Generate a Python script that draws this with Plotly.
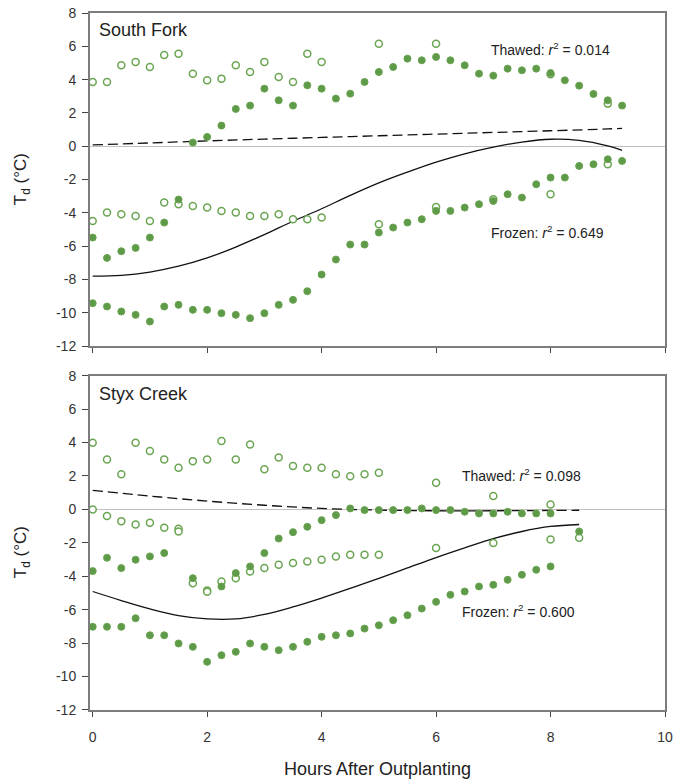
import plotly.graph_objects as go

# ---------------- South Fork (top panel) ----------------
sf_open_a_t = [0, 0.25, 0.5, 0.75, 1.0, 1.25, 1.5, 1.75, 2.0, 2.25, 2.5, 2.75, 3.0, 3.25, 3.5, 3.75, 4.0, 5, 6, 8, 9]
sf_open_a = [3.86, 3.86, 4.86, 5.06, 4.76, 5.48, 5.56, 4.36, 3.96, 4.06, 4.86, 4.46, 5.06, 4.16, 3.86, 5.56, 5.06, 6.16, 6.16, 4.32, 2.56]

sf_open_b_t = [0, 0.25, 0.5, 0.75, 1.0, 1.25, 1.5, 1.75, 2.0, 2.25, 2.5, 2.75, 3.0, 3.25, 3.5, 3.75, 4.0, 5, 6, 7, 8, 9]
sf_open_b = [-4.48, -3.98, -4.08, -4.18, -4.48, -3.38, -3.48, -3.58, -3.68, -3.88, -3.98, -4.18, -4.18, -4.08, -4.38, -4.38, -4.28, -4.68, -3.64, -3.18, -2.88, -1.08]

sf_filled_a_t = [1.75, 2.0, 2.25, 2.5, 2.75, 3.0, 3.25, 3.5, 3.75, 4.0, 4.25, 4.5, 4.75, 5.0, 5.25, 5.5, 5.75, 6.0, 6.25, 6.5, 6.75, 7.0, 7.25, 7.5, 7.75, 8.0, 8.25, 8.5, 8.75, 9.0, 9.25]
sf_filled_a = [0.22, 0.56, 1.24, 2.24, 2.44, 3.46, 2.76, 2.44, 3.66, 3.46, 2.86, 3.16, 3.86, 4.46, 4.76, 5.26, 5.16, 5.36, 5.16, 4.86, 4.36, 4.24, 4.66, 4.56, 4.66, 4.40, 3.96, 3.64, 3.14, 2.76, 2.44]

sf_filled_b_t = [0, 0.25, 0.5, 0.75, 1.0, 1.25, 1.5]
sf_filled_b = [-5.48, -6.70, -6.30, -6.10, -5.48, -4.58, -3.20]

sf_filled_c_t = [0, 0.25, 0.5, 0.75, 1.0, 1.25, 1.5, 1.75, 2.0, 2.25, 2.5, 2.75, 3.0, 3.25, 3.5, 3.75, 4.0, 4.25, 4.5, 4.75,
                 5.0, 5.25, 5.5, 5.75, 6.0, 6.25, 6.5, 6.75, 7.0, 7.25, 7.5, 7.75, 8.0, 8.25, 8.5, 8.75, 9.0, 9.25]
sf_filled_c = [-9.42, -9.62, -9.92, -10.12, -10.52, -9.62, -9.52, -9.82, -9.82, -10.02, -10.12, -10.32, -10.02, -9.52, -9.22, -8.70, -7.70, -6.80, -5.90, -5.90,
               -5.18, -4.88, -4.58, -4.38, -3.88, -3.88, -3.68, -3.48, -3.28, -2.88, -3.08, -2.28, -1.88, -1.88, -1.18, -1.08, -0.78, -0.88]

sf_thawed_fit_t = [0, 1, 2, 3, 4, 5, 6, 7, 8, 9, 9.25]
sf_thawed_fit = [0.08, 0.20, 0.32, 0.43, 0.53, 0.63, 0.73, 0.83, 0.93, 1.04, 1.08]

sf_frozen_fit_t = [0, 0.5, 1, 1.5, 2, 2.5, 3, 3.5, 4, 4.5, 5, 5.5, 6, 6.5, 7, 7.5, 8, 8.5, 9, 9.25]
sf_frozen_fit = [-7.80, -7.75, -7.55, -7.20, -6.70, -6.05, -5.30, -4.50, -3.75, -2.95, -2.20, -1.55, -0.95, -0.45, -0.05, 0.25, 0.42, 0.35, 0.02, -0.25]

# ---------------- Styx Creek (bottom panel) ----------------
sc_open_a_t = [0, 0.25, 0.5, 0.75, 1.0, 1.25, 1.5, 1.75, 2.0, 2.25, 2.5, 2.75, 3.0, 3.25, 3.5, 3.75, 4.0, 4.25, 4.5, 4.75, 5.0, 6, 7, 8]
sc_open_a = [3.99, 2.99, 2.11, 3.99, 3.49, 2.99, 2.50, 2.89, 2.99, 4.09, 2.99, 3.89, 2.40, 3.10, 2.60, 2.50, 2.50, 2.10, 1.99, 2.10, 2.20, 1.60, 0.80, 0.30]

sc_open_b_t = [0, 0.25, 0.5, 0.75, 1.0, 1.25, 1.5, 1.5, 1.75, 2.0, 2.0, 2.25, 2.5, 2.75, 3.0, 3.25, 3.5, 3.75, 4.0, 4.25, 4.5, 4.75, 5.0, 6, 7, 8, 8.5]
sc_open_b = [0.00, -0.40, -0.70, -0.90, -0.80, -1.10, -1.15, -1.32, -4.41, -4.85, -4.93, -4.31, -4.11, -3.71, -3.51, -3.31, -3.21, -3.11, -3.01, -2.81, -2.71, -2.71, -2.71, -2.31, -2.01, -1.80, -1.70]

sc_filled_a_t = [0, 0.25, 0.5, 0.75, 1.0, 1.25, 1.75, 2.25, 2.5, 2.75, 3.0, 3.25, 3.5, 3.75, 4.0, 4.25, 4.5, 4.75, 5.0, 5.25, 5.5, 5.75,
                 6.0, 6.25, 6.5, 6.75, 7.0, 7.25, 7.5, 7.75, 8.0, 8.5]
sc_filled_a = [-3.69, -2.89, -3.51, -3.01, -2.81, -2.61, -4.11, -4.61, -3.81, -3.41, -2.61, -1.74, -1.36, -1.04, -0.64, -0.34, 0.06, -0.04, -0.04, -0.04, -0.04, 0.06,
               -0.04, -0.04, -0.14, -0.24, -0.24, -0.14, -0.24, -0.24, -0.24, -1.32]

sc_filled_b_t = [0, 0.25, 0.5, 0.75, 1.0, 1.25, 1.5, 1.75, 2.0, 2.25, 2.5, 2.75, 3.0, 3.25, 3.5, 3.75, 4.0, 4.25, 4.5, 4.75, 5.0,
                 5.25, 5.5, 5.75, 6.0, 6.25, 6.5, 6.75, 7.0, 7.25, 7.5, 7.75, 8.0]
sc_filled_b = [-7.02, -7.02, -7.02, -6.51, -7.53, -7.53, -8.02, -8.22, -9.12, -8.72, -8.52, -8.02, -8.22, -8.42, -8.22, -7.92, -7.62, -7.53, -7.42, -7.13, -6.93,
               -6.63, -6.33, -5.93, -5.53, -5.11, -4.91, -4.61, -4.51, -4.21, -3.91, -3.61, -3.41]

sc_thawed_fit_t = [0, 1, 2, 3, 4, 5, 6, 7, 8, 8.5]
sc_thawed_fit = [1.14, 0.80, 0.50, 0.25, 0.06, -0.04, -0.08, -0.08, -0.06, -0.05]

sc_frozen_fit_t = [0, 0.5, 1, 1.5, 2, 2.5, 3, 3.5, 4, 4.5, 5, 5.5, 6, 6.5, 7, 7.5, 8, 8.5]
sc_frozen_fit = [-4.91, -5.45, -5.95, -6.35, -6.55, -6.55, -6.28, -5.83, -5.30, -4.72, -4.12, -3.50, -2.88, -2.30, -1.75, -1.32, -1.02, -0.90]

x_ticks = [0, 2, 4, 6, 8, 10]
y_ticks = [8, 6, 4, 2, 0, -2, -4, -6, -8, -10, -12]
y_ticktext = ["8", "6", "4", "2", "0", "-2", "-4", "-6", "-8", "-10", "-12"]

panel_titles = ["South Fork", "Styx Creek"]
thawed_labels = ["Thawed: <i>r</i><sup>2</sup> = 0.014", "Thawed: <i>r</i><sup>2</sup> = 0.098"]
frozen_labels = ["Frozen: <i>r</i><sup>2</sup> = 0.649", "Frozen: <i>r</i><sup>2</sup> = 0.600"]

GREEN = "#5f9a48"
GREEN_EDGE = "#6aa552"
FONT = "Liberation Sans, Arial, sans-serif"

fig = go.Figure()


def add_line(t, v, xa, ya, dash):
    fig.add_trace(go.Scatter(x=t, y=v, mode="lines", xaxis=xa, yaxis=ya,
                             line=dict(color="#111111", width=1.3, dash=dash, shape="spline", smoothing=1.0),
                             showlegend=False, hoverinfo="skip"))


def add_filled(t, v, xa, ya):
    fig.add_trace(go.Scatter(x=t, y=v, mode="markers", xaxis=xa, yaxis=ya,
                             marker=dict(size=7, color=GREEN, line=dict(color=GREEN_EDGE, width=1)),
                             showlegend=False))


def add_open(t, v, xa, ya):
    fig.add_trace(go.Scatter(x=t, y=v, mode="markers", xaxis=xa, yaxis=ya,
                             marker=dict(size=7, color="white", line=dict(color=GREEN_EDGE, width=1.5)),
                             showlegend=False))


# top panel
add_line(sf_thawed_fit_t, sf_thawed_fit, "x", "y", "10px,5px")
add_line(sf_frozen_fit_t, sf_frozen_fit, "x", "y", "solid")
add_open(sf_open_a_t, sf_open_a, "x", "y")
add_open(sf_open_b_t, sf_open_b, "x", "y")
add_filled(sf_filled_a_t, sf_filled_a, "x", "y")
add_filled(sf_filled_b_t, sf_filled_b, "x", "y")
add_filled(sf_filled_c_t, sf_filled_c, "x", "y")

# bottom panel
add_line(sc_thawed_fit_t, sc_thawed_fit, "x2", "y2", "10px,5px")
add_line(sc_frozen_fit_t, sc_frozen_fit, "x2", "y2", "solid")
add_open(sc_open_a_t, sc_open_a, "x2", "y2")
add_open(sc_open_b_t, sc_open_b, "x2", "y2")
add_filled(sc_filled_a_t, sc_filled_a, "x2", "y2")
add_filled(sc_filled_b_t, sc_filled_b, "x2", "y2")

xcommon = dict(range=[-0.047, 10.0], tickvals=x_ticks, ticks="outside", ticklen=5, tickwidth=1,
               tickcolor="#444", showline=True, linecolor="#7d7d7d", linewidth=2, mirror=True,
               showgrid=False, zeroline=False, ticklabelstandoff=8, automargin=False,
               tickfont=dict(family=FONT, size=14, color="#333"))
ycommon = dict(range=[-12, 8], tickvals=y_ticks, ticktext=y_ticktext, ticks="outside", ticklen=6, tickwidth=1,
               tickcolor="#444", showline=True, linecolor="#7d7d7d", linewidth=2, mirror=True,
               showgrid=False, zeroline=True, zerolinecolor="#c4c0bc", zerolinewidth=1, ticklabelstandoff=3,
               automargin=False,
               tickfont=dict(family=FONT, size=14, color="#333"))

fig.update_layout(
    width=682, height=779,
    margin=dict(l=90, r=17, t=13, b=69, autoexpand=False),
    paper_bgcolor="white", plot_bgcolor="white",
    font=dict(family=FONT, color="#222"),
    xaxis=dict(xcommon, anchor="y", showticklabels=False),
    yaxis=dict(ycommon, anchor="x", domain=[0.522, 1.0]),
    xaxis2=dict(xcommon, anchor="y2", showticklabels=True),
    yaxis2=dict(ycommon, anchor="x2", domain=[0.0, 0.4796]),
)

ann = []
ann.append(dict(x=0.075, y=6.96, xref="x", yref="y", text=panel_titles[0], showarrow=False,
                xanchor="left", yanchor="middle", font=dict(family=FONT, size=18, color="#222")))
ann.append(dict(x=0.075, y=6.89, xref="x2", yref="y2", text=panel_titles[1], showarrow=False,
                xanchor="left", yanchor="middle", font=dict(family=FONT, size=18, color="#222")))
ann.append(dict(x=6.93, y=5.82, xref="x", yref="y", text=thawed_labels[0], showarrow=False,
                xanchor="left", yanchor="middle", font=dict(family=FONT, size=14, color="#222")))
ann.append(dict(x=6.93, y=-5.16, xref="x", yref="y", text=frozen_labels[0], showarrow=False,
                xanchor="left", yanchor="middle", font=dict(family=FONT, size=14, color="#222")))
ann.append(dict(x=6.41, y=2.04, xref="x2", yref="y2", text=thawed_labels[1], showarrow=False,
                xanchor="left", yanchor="middle", font=dict(family=FONT, size=14, color="#222")))
ann.append(dict(x=6.42, y=-6.1, xref="x2", yref="y2", text=frozen_labels[1], showarrow=False,
                xanchor="left", yanchor="middle", font=dict(family=FONT, size=14, color="#222")))
for yc in [0.7618, 0.2267]:
    ann.append(dict(x=-0.118, y=yc, xref="paper", yref="paper", text="T<sub>d</sub> (°C)", showarrow=False,
                    textangle=-90, xanchor="center", yanchor="middle",
                    font=dict(family=FONT, size=17, color="#222")))
ann.append(dict(x=0.5, y=-0.0847, xref="paper", yref="paper", text="Hours After Outplanting", showarrow=False,
                xanchor="center", yanchor="middle", font=dict(family=FONT, size=18, color="#222")))

fig.update_layout(annotations=ann)

# remove the default 8px page margin so the 682x779 figure fills the window exactly
fig.write_html("out.html", config={"displayModeBar": False},
               post_script="document.body.style.margin='0px';")
